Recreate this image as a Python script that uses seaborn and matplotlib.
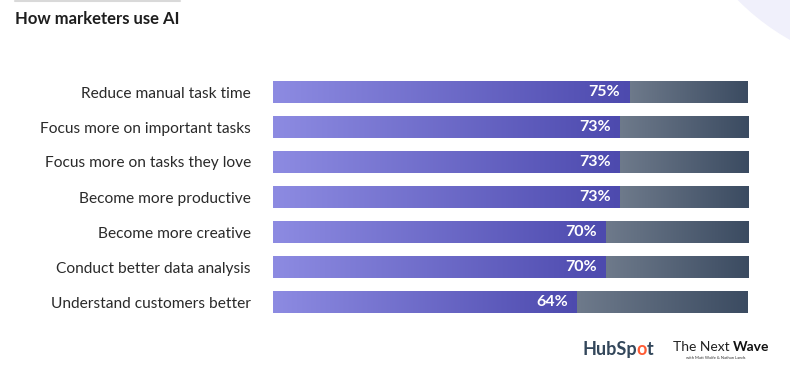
import numpy as np
import pandas as pd
import matplotlib
matplotlib.use("Agg")
import matplotlib.pyplot as plt
import seaborn as sns
from matplotlib.colors import LinearSegmentedColormap
from matplotlib.patches import Circle

categories = [
    "Reduce manual task time",
    "Focus more on important tasks",
    "Focus more on tasks they love",
    "Become more productive",
    "Become more creative",
    "Conduct better data analysis",
    "Understand customers better",
]
values = [75, 73, 73, 73, 70, 70, 64]
totals = [100] * len(categories)
title = "How marketers use AI"

sns.set_theme(style="white")
plt.rcParams["font.family"] = ["Lato", "DejaVu Sans"]

W, H = 790, 369
fig = plt.figure(figsize=(W / 100, H / 100), dpi=100)
fig.patch.set_facecolor("white")

# background decoration axes in pixel coords
bg = fig.add_axes([0, 0, 1, 1], zorder=0)
bg.set_xlim(0, W)
bg.set_ylim(H, 0)
bg.axis("off")
bg.add_patch(Circle((905, -165), 235, facecolor="#f0f0fb", edgecolor="none"))
bg.plot([15, 180], [0.5, 0.5], color="#d9d9d9", lw=1.5)

ax = fig.add_axes([273 / W, 1 - 319.5 / H, 475 / W, 245 / H], zorder=1)
ax.patch.set_alpha(0)

df = pd.DataFrame({"cat": categories, "val": values, "tot": totals})
sns.barplot(data=df, y="cat", x="tot", color="#55657a", width=0.63, ax=ax, saturation=1)
sns.barplot(data=df, y="cat", x="val", color="#6f6cd0", width=0.63, ax=ax, saturation=1)

purple = LinearSegmentedColormap.from_list("p", ["#8d8be2", "#4d4aae"])
gray = LinearSegmentedColormap.from_list("g", ["#6e7a8b", "#3b4b61"])
grad = np.linspace(0, 1, 256).reshape(1, -1)

n = len(categories)
patches = list(ax.patches)
for i, p in enumerate(patches):
    x0, y0, w, h = p.get_x(), p.get_y(), p.get_width(), p.get_height()
    p.set_facecolor("none")
    p.set_edgecolor("none")
    if i < n:
        v = values[i]
        im = ax.imshow(grad, cmap=gray, aspect="auto",
                       extent=(v, x0 + w, y0 + h, y0), zorder=1)
    else:
        im = ax.imshow(grad, cmap=purple, aspect="auto",
                       extent=(x0, x0 + w, y0 + h, y0), zorder=2)
    im.set_clip_path(p)

for i, v in enumerate(values):
    ax.text(v - 1.9, i, f"{v}%", ha="right", va="center", color="white",
            fontsize=11.5, fontweight="bold", zorder=3)

ax.set_xlim(0, 100)
ax.set_ylim(n - 0.5, -0.5)
ax.set_xlabel("")
ax.set_ylabel("")
ax.set_xticks([])
for s in ax.spines.values():
    s.set_visible(False)
ax.tick_params(axis="y", length=0, pad=16, labelsize=11.2, labelcolor="#2a2a2a")

fig.text(15 / W, 1 - 18.5 / H, title, ha="left", va="center", fontsize=12,
         fontweight="bold", color="#1e1e1e")

# logos as text
fig.canvas.draw()
r = fig.canvas.get_renderer()
x = 582
y = 1 - 355 / H
for piece, col in [("HubSp", "#33475b"), ("o", "#ff5c35"), ("t", "#33475b")]:
    t = fig.text(x / W, y, piece, ha="left", va="baseline", fontsize=13,
                 fontweight="bold", color=col)
    x += t.get_window_extent(r).width
x = 673
t = fig.text(x / W, 1 - 351 / H, "The Next ", ha="left", va="baseline", fontsize=10,
             color="#222222")
x += t.get_window_extent(r).width
fig.text(x / W, 1 - 351 / H, "Wave", ha="left", va="baseline", fontsize=10,
         fontweight="bold", color="#111111")
fig.text(686 / W, 1 - 358 / H, "with Matt Wolfe & Nathan Lands", ha="left", va="center",
         fontsize=3, color="#333333")

fig.savefig("out.png", dpi=100, facecolor="white")
